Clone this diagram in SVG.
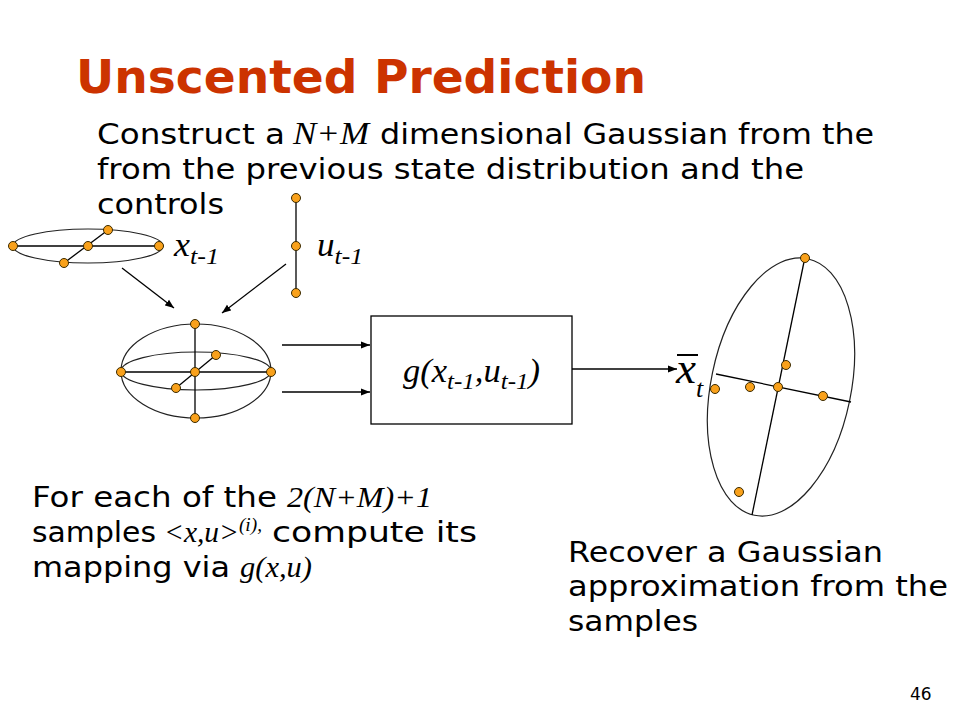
<svg xmlns="http://www.w3.org/2000/svg" width="960" height="720" viewBox="0 0 960 720">
<style>
.t{font-family:"DejaVu Sans",Verdana,sans-serif;font-size:28px;fill:#000}
.m{font-family:"Liberation Serif","Times New Roman",serif;font-style:italic;fill:#000}
.ttl{font-family:"DejaVu Sans",Verdana,sans-serif;font-weight:bold;font-size:46px;fill:#CC3300}
.ln{stroke:#000;stroke-width:1.3;fill:none}
.el{stroke:#222;stroke-width:1.2;fill:none}
.d{fill:#F9A11B;stroke:#3a2a00;stroke-width:1}
</style>
<defs>
<marker id="ah" viewBox="0 0 10 10" refX="10" refY="5" markerWidth="9" markerHeight="9" markerUnits="userSpaceOnUse" orient="auto">
<path d="M0,1 L10,5 L0,9 z" fill="#000"/>
</marker>
</defs>
<rect width="960" height="720" fill="#fff"/>
<text class="ttl" x="76" y="93" textLength="570" lengthAdjust="spacingAndGlyphs">Unscented Prediction</text>
<g id="intro">
<text class="t" x="97" y="144" textLength="188" lengthAdjust="spacingAndGlyphs">Construct a</text>
<text class="m" x="293" y="144" font-size="31" textLength="76" lengthAdjust="spacingAndGlyphs">N+M</text>
<text class="t" x="380" y="144" textLength="494" lengthAdjust="spacingAndGlyphs">dimensional Gaussian from the</text>
<text class="t" x="97" y="179" textLength="707" lengthAdjust="spacingAndGlyphs">from the previous state distribution and the</text>
<text class="t" x="97" y="214" textLength="127" lengthAdjust="spacingAndGlyphs">controls</text>
</g>
<g id="connectors">
<line class="ln" x1="122" y1="268" x2="174" y2="308" marker-end="url(#ah)"/>
<line class="ln" x1="286" y1="264" x2="222" y2="313" marker-end="url(#ah)"/>
<line class="ln" x1="282" y1="345" x2="370" y2="345" marker-end="url(#ah)"/>
<line class="ln" x1="282" y1="392" x2="370" y2="392" marker-end="url(#ah)"/>
<line class="ln" x1="572" y1="369" x2="677" y2="369" marker-end="url(#ah)"/>
</g>
<g id="state-prev">
<ellipse class="el" cx="88" cy="246" rx="75" ry="17"/>
<line class="ln" x1="13" y1="246" x2="159" y2="246"/>
<line class="ln" x1="64" y1="263" x2="108" y2="230"/>
<circle class="d" cx="13" cy="246" r="4.5"/>
<circle class="d" cx="159" cy="246" r="4.5"/>
<circle class="d" cx="88" cy="246" r="4.5"/>
<circle class="d" cx="108" cy="230" r="4.5"/>
<circle class="d" cx="64" cy="263" r="4.5"/>
<text class="m" x="174" y="256" font-size="33" textLength="45" lengthAdjust="spacingAndGlyphs">x<tspan font-size="24" dy="8">t-1</tspan></text>
</g>
<g id="control">
<line class="ln" x1="296" y1="198" x2="296" y2="293"/>
<circle class="d" cx="296" cy="198" r="4.5"/>
<circle class="d" cx="296" cy="246" r="4.5"/>
<circle class="d" cx="296" cy="293" r="4.5"/>
<text class="m" x="317" y="256" font-size="33" textLength="46" lengthAdjust="spacingAndGlyphs">u<tspan font-size="24" dy="8">t-1</tspan></text>
</g>
<g id="joint">
<ellipse class="el" cx="196" cy="371" rx="75" ry="47"/>
<ellipse class="el" cx="196" cy="371" rx="75" ry="19"/>
<line class="ln" x1="195" y1="324" x2="195" y2="418"/>
<line class="ln" x1="121" y1="372" x2="271" y2="372"/>
<line class="ln" x1="176" y1="388" x2="216" y2="355"/>
<circle class="d" cx="195" cy="324" r="4.5"/>
<circle class="d" cx="195" cy="418" r="4.5"/>
<circle class="d" cx="121" cy="372" r="4.5"/>
<circle class="d" cx="271" cy="372" r="4.5"/>
<circle class="d" cx="195" cy="372" r="4.5"/>
<circle class="d" cx="216" cy="355" r="4.5"/>
<circle class="d" cx="176" cy="388" r="4.5"/>
</g>
<g id="g-box">
<rect x="371" y="316" width="201" height="108" fill="#fff" stroke="#000" stroke-width="1.3"/>
<text class="m" x="403" y="382" font-size="33" textLength="137" lengthAdjust="spacingAndGlyphs">g(x<tspan font-size="24" dy="7">t-1</tspan><tspan dy="-7">,u</tspan><tspan font-size="24" dy="7">t-1</tspan><tspan dy="-7">)</tspan></text>
</g>
<g id="predicted">
<ellipse class="el" cx="781" cy="387" rx="70" ry="131" transform="rotate(11.7 781 387)"/>
<line class="ln" x1="805" y1="257" x2="752" y2="515"/>
<line class="ln" x1="716" y1="374" x2="851" y2="402"/>
<circle class="d" cx="805" cy="258" r="4.5"/>
<circle class="d" cx="786" cy="365" r="4.5"/>
<circle class="d" cx="778" cy="387" r="4.5"/>
<circle class="d" cx="715" cy="389" r="4.5"/>
<circle class="d" cx="750" cy="387" r="4.5"/>
<circle class="d" cx="823" cy="396" r="4.5"/>
<circle class="d" cx="739" cy="492" r="4.5"/>
<line x1="677" y1="355" x2="698" y2="355" stroke="#000" stroke-width="2"/>
<text class="m" x="676" y="383" font-size="45">x<tspan font-size="26" dy="14">t</tspan></text>
</g>
<g id="samples-text">
<text class="t" x="32" y="507" textLength="245" lengthAdjust="spacingAndGlyphs">For each of the</text>
<text class="m" x="287" y="507" font-size="30" textLength="145" lengthAdjust="spacingAndGlyphs">2(N+M)+1</text>
<text class="t" x="32" y="542" textLength="124" lengthAdjust="spacingAndGlyphs">samples</text>
<text class="m" x="164" y="542" font-size="29" textLength="98" lengthAdjust="spacingAndGlyphs">&lt;x,u&gt;<tspan font-size="19" dy="-11">(i),</tspan></text>
<text class="t" x="272" y="542" textLength="205" lengthAdjust="spacingAndGlyphs">compute its</text>
<text class="t" x="32" y="577" textLength="198" lengthAdjust="spacingAndGlyphs">mapping via</text>
<text class="m" x="240" y="577" font-size="30" textLength="72" lengthAdjust="spacingAndGlyphs">g(x,u)</text>
</g>
<g id="recover-text">
<text class="t" x="568" y="562" textLength="315" lengthAdjust="spacingAndGlyphs">Recover a Gaussian</text>
<text class="t" x="568" y="596" textLength="380" lengthAdjust="spacingAndGlyphs">approximation from the</text>
<text class="t" x="568" y="631" textLength="130" lengthAdjust="spacingAndGlyphs">samples</text>
</g>
<text x="910" y="700" font-family="DejaVu Sans,Verdana,sans-serif" font-size="17" fill="#000">46</text>
</svg>
